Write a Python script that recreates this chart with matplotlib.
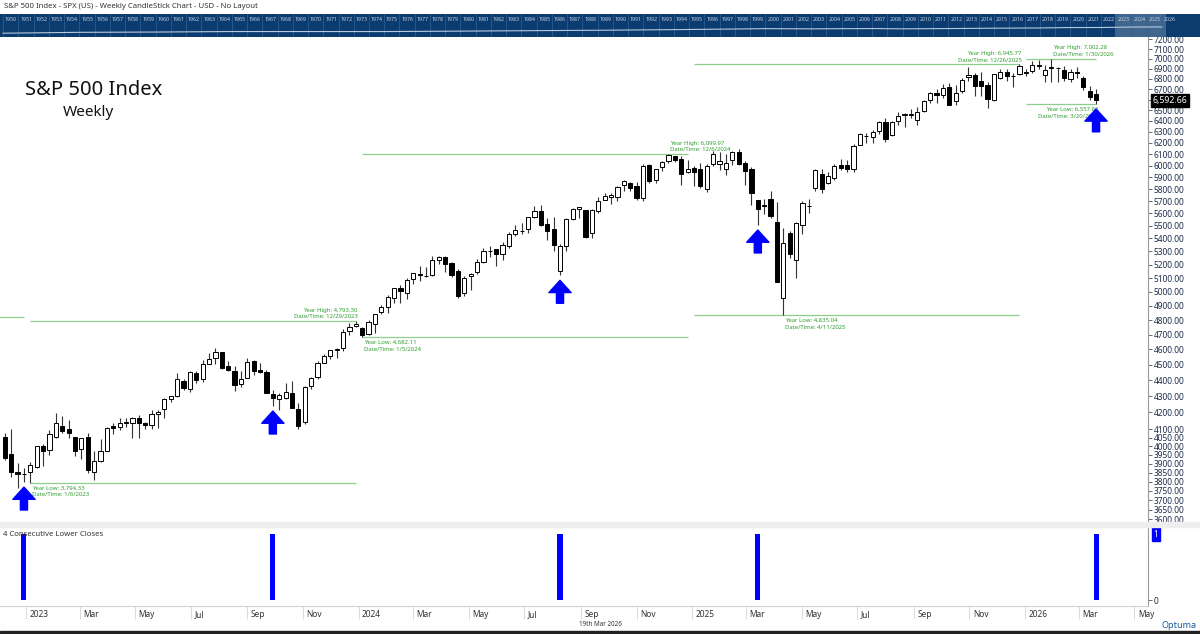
import numpy as np
import pandas as pd
import matplotlib
matplotlib.use('Agg')
import matplotlib.pyplot as plt
import matplotlib.dates as mdates
import matplotlib.transforms as mtransforms
from matplotlib.ticker import NullLocator
from matplotlib.patches import Rectangle

plt.rcParams['font.family'] = ['Noto Sans', 'DejaVu Sans']

# weekly candles, week ending Friday, 9 Dec 2022 .. 20 Mar 2026
weeks = pd.date_range('2022-12-09', '2026-03-20', freq='W-FRI')

opens = [
    4052, 3954, 3853, 3843,
    # 2023
    3853, 3884, 3999, 3979, 4053, 4119, 4100, 4054, 3982, 4055, 3854, 3917, 3975,
    4120, 4110, 4140, 4135, 4166, 4136, 4127, 4191, 4220, 4282, 4300, 4396, 4345,
    4447, 4405, 4506, 4544, 4580, 4491, 4461, 4374, 4415, 4526, 4464, 4453, 4314,
    4285, 4290, 4320, 4222, 4140, 4364, 4418, 4512, 4555, 4594, 4610, 4726, 4758,
    # 2024
    4745, 4703, 4772, 4853, 4888, 4957, 5026, 4988, 5093, 5131, 5115, 5123, 5233,
    5257, 5210, 5150, 4988, 5115, 5143, 5221, 5305, 5316, 5283, 5341, 5432, 5459,
    5471, 5573, 5615, 5513, 5476, 5152, 5345, 5557, 5635, 5624, 5442, 5616, 5711,
    5737, 5737, 5838, 5855, 5826, 5724, 6008, 5874, 5992, 6040, 6084, 6056, 5943,
    # 2025
    5979, 5969, 5801, 6014, 6012, 5970, 6047, 6121, 6026, 5969, 5706, 5658, 5718,
    5528, 4953, 5441, 5232, 5510, 5660, 5808, 5925, 5854, 5897, 6005, 6005, 5970,
    6177, 6261, 6255, 6305, 6390, 6272, 6401, 6457, 6451, 6409, 6489, 6594, 6662,
    6645, 6721, 6584, 6686, 6815, 6842, 6779, 6737, 6600, 6812, 6870, 6830, 6850,
    # 2026
    6872, 6880, 6935, 6842, 6910, 6905, 6892, 6795, 6870, 6813, 6679, 6651,
]
highs = [
    4077, 4101, 3906, 3878,
    3907, 4004, 4015, 4095, 4195, 4176, 4156, 4054, 4049, 4079, 3975, 4040, 4110,
    4134, 4164, 4169, 4170, 4186, 4143, 4212, 4213, 4290, 4299, 4449, 4407, 4458,
    4456, 4528, 4578, 4607, 4584, 4527, 4491, 4458, 4541, 4528, 4511, 4466, 4338,
    4320, 4385, 4394, 4256, 4366, 4420, 4521, 4568, 4597, 4610, 4738, 4779, 4793.30,
    4755, 4803, 4842, 4907, 4975, 5030, 5048, 5097, 5141, 5190, 5180, 5262, 5265,
    5264, 5223, 5168, 5114, 5140, 5240, 5325, 5342, 5315, 5376, 5447, 5506, 5524,
    5570, 5656, 5670, 5566, 5567, 5358, 5564, 5643, 5651, 5626, 5636, 5733, 5767,
    5765, 5823, 5878, 5863, 5862, 6012, 6018, 5972, 6044, 6099.97, 6086, 6085, 6049,
    5993, 6022, 6014, 6128, 6120, 6101, 6127, 6147, 6044, 5986, 5712, 5715, 5787,
    5696, 5481, 5459, 5534, 5700, 5721, 5969, 5968, 5944, 6017, 6059, 6050, 6187,
    6285, 6291, 6315, 6395, 6427, 6395, 6481, 6478, 6508, 6533, 6592, 6672, 6699,
    6750, 6765, 6744, 6807, 6920, 6860, 6870, 6770, 6853, 6895, 6902, 6862, 6945.77,
    6900, 6975, 6985, 6935, 7002.28, 6920, 6930, 6900, 6922, 6830, 6736, 6698,
]
lows = [
    3919, 3827, 3764, 3797,
    3794.33, 3877, 3885, 3949, 4049, 4079, 4048, 3943, 3928, 3847, 3809, 3909, 3972,
    4069, 4092, 4114, 4049, 4048, 4099, 4098, 4104, 4166, 4261, 4293, 4341, 4328,
    4385, 4389, 4502, 4507, 4474, 4457, 4335, 4356, 4415, 4431, 4448, 4317, 4238,
    4217, 4284, 4224, 4103, 4128, 4342, 4411, 4510, 4537, 4546, 4591, 4696, 4751,
    4682.11, 4700, 4714, 4845, 4846, 4919, 4920, 4947, 5056, 5075, 5105, 5118, 5204,
    5146, 5107, 4954, 4971, 5012, 5127, 5212, 5256, 5191, 5234, 5324, 5420, 5433,
    5445, 5563, 5497, 5390, 5306, 5119, 5306, 5545, 5561, 5403, 5402, 5600, 5705,
    5674, 5704, 5785, 5786, 5706, 5697, 5854, 5853, 5956, 6019, 6027, 5833, 5933,
    5824, 5806, 5773, 5998, 5962, 5923, 6003, 6009, 5837, 5667, 5505, 5598, 5566,
    5069, 4835.04, 5247, 5101, 5434, 5602, 5786, 5767, 5840, 5877, 5964, 5943, 5943,
    6177, 6201, 6201, 6281, 6212, 6260, 6358, 6343, 6427, 6360, 6482, 6570, 6570,
    6616, 6551, 6550, 6666, 6778, 6631, 6632, 6521, 6590, 6799, 6780, 6720, 6840,
    6825, 6860, 6900, 6775, 6775, 6775, 6780, 6770, 6813, 6690, 6600, 6557.82,
]
closes = [
    3934, 3852, 3845, 3840,
    3895, 3999, 3973, 4071, 4136, 4090, 4079, 3970, 4046, 3862, 3917, 3971, 4109,
    4105, 4138, 4134, 4169, 4136, 4124, 4192, 4205, 4282, 4299, 4410, 4348, 4450,
    4399, 4505, 4536, 4582, 4478, 4464, 4370, 4406, 4516, 4457, 4450, 4320, 4288,
    4309, 4328, 4224, 4117, 4358, 4415, 4514, 4559, 4595, 4604, 4719, 4755, 4770,
    4697, 4784, 4840, 4891, 4959, 5027, 5006, 5089, 5137, 5124, 5117, 5234, 5254,
    5204, 5123, 4967, 5100, 5128, 5223, 5303, 5305, 5278, 5347, 5432, 5465, 5460,
    5567, 5615, 5505, 5459, 5347, 5344, 5554, 5635, 5648, 5408, 5626, 5703, 5738,
    5751, 5815, 5865, 5808, 5729, 5996, 5871, 5969, 6032, 6090, 6051, 5931, 5971,
    5942, 5827, 5997, 6101, 6041, 6026, 6115, 6013, 5955, 5770, 5639, 5668, 5581,
    5074, 5363, 5283, 5525, 5687, 5660, 5958, 5803, 5912, 6000, 5977, 5968, 6173,
    6279, 6260, 6297, 6389, 6238, 6389, 6450, 6467, 6460, 6482, 6584, 6664, 6644,
    6716, 6553, 6664, 6792, 6840, 6729, 6734, 6603, 6849, 6870, 6827, 6834, 6930,
    6858, 6940, 6925, 6892, 6920, 6910, 6813, 6872, 6860, 6717, 6625, 6592.66,
]

# weeks that completed 4 consecutive lower closes
signal_dates = pd.to_datetime(['2022-12-30', '2023-09-29', '2024-08-09',
                               '2025-03-14', '2026-03-20'])

# yearly high / low markers
lvl_year = [2022, 2023, 2023, 2024, 2024, 2025, 2025, 2026, 2026]
lvl_kind = ['high', 'low', 'high', 'low', 'high', 'low', 'high', 'low', 'high']
lvl_value = [4818.62, 3794.33, 4793.30, 4682.11, 6099.97, 4835.04, 6945.77, 6557.82, 7002.28]
lvl_date = ['', '1/6/2023', '12/29/2023', '1/5/2024', '12/6/2024',
            '4/11/2025', '12/26/2025', '3/20/2026', '1/30/2026']
lvl_ha = ['left', 'left', 'right', 'left', 'left', 'left', 'right', 'right', 'left']

# overview strip (approx. S&P 500 history)
hist_years = [1950, 1955, 1960, 1965, 1970, 1975, 1980, 1985, 1990, 1995, 2000,
              2003, 2007, 2009, 2012, 2015, 2018, 2020, 2022, 2024, 2026]
hist_values = [20, 45, 58, 92, 92, 90, 136, 211, 330, 616, 1320,
               1112, 1468, 1115, 1426, 2044, 2507, 3756, 3840, 5882, 6600]

last_price = closes[-1]

W, H = 1200, 634


def box(x0, y0, x1, y1):
    return [x0 / W, 1 - y1 / H, (x1 - x0) / W, (y1 - y0) / H]


fig = plt.figure(figsize=(12, 6.34), dpi=100)
fig.patch.set_facecolor('white')

ax = fig.add_axes(box(0, 37, 1148, 522))
ax2 = fig.add_axes(box(0, 527, 1148, 606), sharex=ax)
axb = fig.add_axes(box(0, 14, 1200, 37))

df = pd.DataFrame({'open': opens, 'high': highs, 'low': lows, 'close': closes}, index=weeks)
up = df['close'] >= df['open']

ax.set_yscale('log')
ax.vlines(df.index, df['low'], df['high'], color='#333333', lw=0.8, zorder=2)
ax.bar(df.index[up], (df['close'] - df['open'])[up], bottom=df['open'][up], width=4.6,
       color='white', edgecolor='black', lw=0.7, zorder=3)
ax.bar(df.index[~up], (df['open'] - df['close'])[~up], bottom=df['close'][~up], width=4.6,
       color='black', edgecolor='black', lw=0.7, zorder=3)

# year high/low lines and labels
green_line = '#8ccf8c'
green_text = '#2e9e2e'
for yr, kind, val, ds, ha in zip(lvl_year, lvl_kind, lvl_value, lvl_date, lvl_ha):
    yr_weeks = df.index[df.index.year == yr]
    start = yr_weeks[0] if yr > 2022 else pd.Timestamp('2022-01-07')
    ax.hlines(val, start, yr_weeks[-1], color=green_line, lw=0.9, zorder=1)
    if not ds:
        continue
    d = pd.to_datetime(ds, format='%m/%d/%Y')
    word = 'High' if kind == 'high' else 'Low'
    txt = f'Year {word}: {val:,.2f}\nDate/Time: {ds}'
    dy = 1.2 if kind == 'high' else -2.0
    dx = 1.0 if ha == 'left' else 1.5
    ax.annotate(txt, xy=(d, val), xytext=(dx, dy), textcoords='offset points',
                ha=ha, va='bottom' if kind == 'high' else 'top',
                fontsize=4.3, color=green_text, linespacing=1.45, zorder=4)

# blue arrows under signal bars
tip_tr = mtransforms.offset_copy(ax.transData, fig=fig, x=0, y=-3.5, units='points')
tail_tr = mtransforms.offset_copy(ax.transData, fig=fig, x=0, y=-20, units='points')
for d in signal_dates:
    lo = df.loc[d, 'low']
    xn = mdates.date2num(d)
    ax.annotate('', xy=(xn, lo), xycoords=tip_tr, xytext=(xn, lo), textcoords=tail_tr,
                arrowprops=dict(arrowstyle='simple,head_length=0.55,head_width=1.0,tail_width=0.32',
                                fc='#0000ff', ec='#0000ff', mutation_scale=16,
                                shrinkA=0, shrinkB=0), zorder=5)

# y axis on the right (the 6600 label sits under the last-price box)
ax.set_ylim(3585, 7225)
yt = list(range(3600, 4100, 50)) + list(range(4100, 7201, 100))
ax.yaxis.tick_right()
ax.set_yticks(yt)
ax.set_yticklabels(['' if v == 6600 else f'{v:.2f}' for v in yt])
ax.yaxis.set_minor_locator(NullLocator())
ax.tick_params(axis='y', length=3, width=0.6, color='#555555', labelsize=6,
               labelcolor='#1c2b4a', pad=1)
ax.tick_params(axis='x', bottom=False, labelbottom=False)
for s in ['top', 'left']:
    ax.spines[s].set_visible(False)
ax.spines['right'].set_color('#9a9a9a')
ax.spines['bottom'].set_color('#d8d8d8')

ax.annotate(f'{last_price:,.2f}', xy=(1, last_price),
            xycoords=mtransforms.blended_transform_factory(ax.transAxes, ax.transData),
            xytext=(3.5, 0), textcoords='offset points', ha='left', va='center',
            fontsize=6.3, color='white',
            bbox=dict(boxstyle='square,pad=0.2', fc='black', ec='black'), zorder=6)

ax.set_xlim(pd.Timestamp('2022-12-03 17:00'), pd.Timestamp('2026-05-16'))

# lower panel: signal bars
ax2.bar(signal_dates, [1] * len(signal_dates), width=5.5, color='#0000ff')
ax2.set_ylim(-0.09, 1.106)
ax2.yaxis.tick_right()
ax2.set_yticks([0])
ax2.set_yticklabels(['0'])
ax2.tick_params(axis='y', length=3, width=0.6, color='#555555', labelsize=6,
                labelcolor='#1c2b4a', pad=1)
ax2.text(0.003, 0.9, '4 Consecutive Lower Closes', transform=ax2.transAxes,
         fontsize=5.6, color='#333333', va='center', ha='left')
ax2.annotate('1', xy=(1, 1),
             xycoords=mtransforms.blended_transform_factory(ax2.transAxes, ax2.transData),
             xytext=(4, 0), textcoords='offset points', ha='left', va='center',
             fontsize=5.8, color='white',
             bbox=dict(boxstyle='square,pad=0.25', fc='#0000ff', ec='#0000ff'))
ax2.spines['left'].set_visible(False)
for s in ['top', 'bottom']:
    ax2.spines[s].set_color('#d0d0d0')
ax2.spines['right'].set_color('#9a9a9a')

xt = pd.date_range('2023-01-01', '2026-05-01', freq='2MS')
ax2.set_xticks(xt)
ax2.set_xticklabels([t.strftime('%Y') if t.month == 1 else t.strftime('%b') for t in xt],
                    ha='left')
ax2.tick_params(axis='x', length=9, width=0.6, color='#d4d4d4', labelsize=6,
                labelcolor='#333333', pad=-6)
shift = mtransforms.ScaledTranslation(2.5 / 72, 0, fig.dpi_scale_trans)
for lbl in ax2.get_xticklabels():
    lbl.set_transform(lbl.get_transform() + shift)

# overview strip
axb.set_facecolor('#0b3b6f')
axb.set_xlim(1949.8, 2028.5)
axb.set_yscale('log')
axb.set_ylim(0.6, 1.0e9)
bt = mtransforms.blended_transform_factory(axb.transData, axb.transAxes)
for yr in range(1950, 2027):
    axb.vlines(yr, 0, 1, transform=bt, color='#34618f', lw=0.5)
    axb.text(yr + 0.12, 0.74, str(yr), transform=bt, fontsize=3.8, color='#c5d2e4',
             va='center', ha='left')
axb.plot(hist_years, hist_values, color='#b9c9dd', lw=0.8)
axb.axvspan(2022.9, 2026.3, color='white', alpha=0.22, lw=0)
axb.set_xticks([])
axb.set_yticks([])
axb.yaxis.set_minor_locator(NullLocator())
for s in axb.spines.values():
    s.set_visible(False)

# separator and footer
fig.patches.append(Rectangle((0, 1 - 527 / H), 1, 5 / H, transform=fig.transFigure,
                             color='#eeeeee', zorder=0))
fig.patches.append(Rectangle((0, 0), 1, 3 / H, transform=fig.transFigure,
                             color='#222222', zorder=0))
fig.text(4 / W, 1 - 7 / H, 'S&P 500 Index - SPX (US) - Weekly CandleStick Chart - USD - No Layout',
         fontsize=5.6, color='#333333', va='center', ha='left')
fig.text(25 / W, 1 - 90 / H, 'S&P 500 Index', fontsize=14.5, color='#111111',
         va='center', ha='left')
fig.text(63 / W, 1 - 112 / H, 'Weekly', fontsize=11, color='#111111', va='center', ha='left')
fig.text(0.5, 1 - 625 / H, '19th Mar 2026', fontsize=4.5, color='#333333',
         va='center', ha='center')
fig.text(1196 / W, 1 - 625 / H, 'Optuma', fontsize=6.5, color='#1c5a9c',
         fontweight='bold', va='center', ha='right')

fig.savefig('out.png', dpi=100)
